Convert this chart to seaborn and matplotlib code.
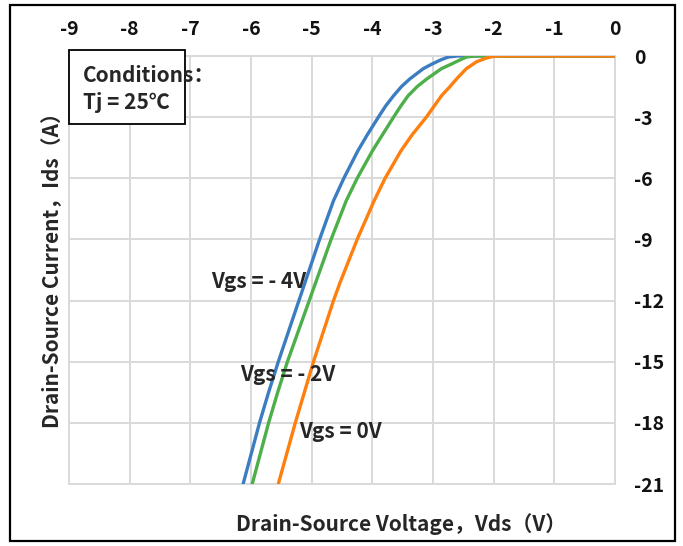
import matplotlib
matplotlib.use("Agg")
import matplotlib.pyplot as plt
from matplotlib.patches import Rectangle
import pandas as pd
import seaborn as sns

# Output characteristics: drain-source voltage (V) vs drain current (A)
vds_m4 = [0, -2.60, -2.75, -2.88, -3.02, -3.16, -3.38, -3.52, -3.65, -3.78, -3.90, -4.08, -4.24,
          -4.47, -4.64, -4.87, -5.04, -5.21, -5.38, -5.55, -5.71, -5.86, -6.13]
ids_m4 = [0, 0, -0.05, -0.2, -0.4, -0.62, -1.12, -1.5, -1.95, -2.45, -3.0, -3.85, -4.66,
          -6, -7.1, -9, -10.5, -12, -13.5, -15, -16.5, -18, -21]

vds_m2 = [0, -2.32, -2.45, -2.56, -2.70, -2.86, -3.10, -3.26, -3.41, -3.53, -3.65, -3.83, -4.00,
          -4.25, -4.43, -4.68, -4.86, -5.04, -5.22, -5.40, -5.56, -5.71, -5.98]
ids_m2 = [0, 0, -0.05, -0.2, -0.4, -0.62, -1.12, -1.5, -1.95, -2.45, -3.0, -3.85, -4.66,
          -6, -7.1, -9, -10.5, -12, -13.5, -15, -16.5, -18, -21]

vds_0 = [0, -1.92, -2.02, -2.12, -2.28, -2.45, -2.61, -2.72, -2.86, -3.11, -3.34, -3.53,
         -3.79, -3.97, -4.25, -4.53, -4.64, -4.97, -5.27, -5.55]
ids_0 = [0, 0, -0.03, -0.1, -0.28, -0.62, -1.12, -1.5, -1.95, -3.0, -3.85, -4.66,
         -6, -7.1, -9, -11.1, -12, -15, -18, -21]

series_names = ["Vgs = - 4V", "Vgs = - 2V", "Vgs = 0V"]
series_colors = ["#3B7DC0", "#4DAF4A", "#FF7F0E"]

x_ticks = list(range(-9, 1))
y_ticks = list(range(-21, 1, 3))

frames = []
for name, xs, ys in zip(series_names, [vds_m4, vds_m2, vds_0], [ids_m4, ids_m2, ids_0]):
    frames.append(pd.DataFrame({"Vds": xs, "Ids": ys, "Vgs": name}))
df = pd.concat(frames, ignore_index=True)

sns.set_theme(style="white")
plt.rcParams["font.family"] = ["Noto Sans CJK SC", "DejaVu Sans"]
plt.rcParams["font.weight"] = "bold"

W, H = 683, 546
fig = plt.figure(figsize=(W / 100, H / 100), dpi=100)
ax = fig.add_axes([69 / W, 1 - 484 / H, (615 - 69) / W, (484 - 56) / H])

sns.lineplot(data=df, x="Vds", y="Ids", hue="Vgs", palette=series_colors,
             hue_order=series_names, sort=False, estimator=None, units="Vgs",
             legend=False, linewidth=2.4, ax=ax, zorder=3)

grid_c = "#D9D9D9"
ax.set_xlim(-9, 0)
ax.set_ylim(-21, 0)
ax.set_xticks(x_ticks)
ax.set_yticks(y_ticks)
ax.set_xticklabels([str(v) for v in x_ticks], fontsize=14, fontweight="bold")
ax.set_yticklabels([str(v) for v in y_ticks], fontsize=14, fontweight="bold")
ax.xaxis.tick_top()
ax.yaxis.tick_right()
ax.tick_params(axis="x", length=0, pad=12, colors="#111111")
ax.tick_params(axis="y", length=0, pad=14, colors="#111111")
ax.grid(True, color=grid_c, linewidth=1.4)
ax.set_axisbelow(True)
for sp in ax.spines.values():
    sp.set_color(grid_c)
    sp.set_linewidth(1.4)
ax.set_xlabel("")
ax.set_ylabel("")

# Curve labels
lab_kw = dict(fontsize=15, fontweight="bold", ha="left", va="center", zorder=5)
ax.text(-6.665, -11.07, "Vgs = - 4V", **lab_kw)
ax.text(-6.18, -15.65, "Vgs = - 2V", **lab_kw)
ax.text(-5.205, -18.43, "Vgs = 0V", **lab_kw)

# Axis titles
fig.text(401 / W, 1 - 524 / H, "Drain-Source Voltage，Vds（V）", fontsize=15,
         fontweight="bold", ha="center", va="center")
fig.text(53 / W, 1 - 265 / H, "Drain-Source Current，Ids（A）", fontsize=15,
         fontweight="bold", ha="center", va="center", rotation=90)

# Test conditions box
box = Rectangle((68.5 / W, 1 - 123.5 / H), (185 - 68.5) / W, (123.5 - 50) / H,
                transform=fig.transFigure, facecolor="white", edgecolor="black",
                linewidth=1.3, zorder=6, clip_on=False)
ax.add_patch(box)
ax.text(83 / W, 1 - 82 / H, "Conditions：", transform=fig.transFigure, fontsize=15,
        fontweight="bold", ha="left", va="baseline", zorder=7)
ax.text(83 / W, 1 - 109 / H, "Tj = 25℃", transform=fig.transFigure, fontsize=15,
        fontweight="bold", ha="left", va="baseline", zorder=7)

# Outer frame
fig.add_artist(Rectangle((10 / W, 1 - 541 / H), 665 / W, 536 / H, transform=fig.transFigure,
                         fill=False, edgecolor="black", linewidth=1.6))

fig.savefig("out.png", dpi=100, facecolor="white")
